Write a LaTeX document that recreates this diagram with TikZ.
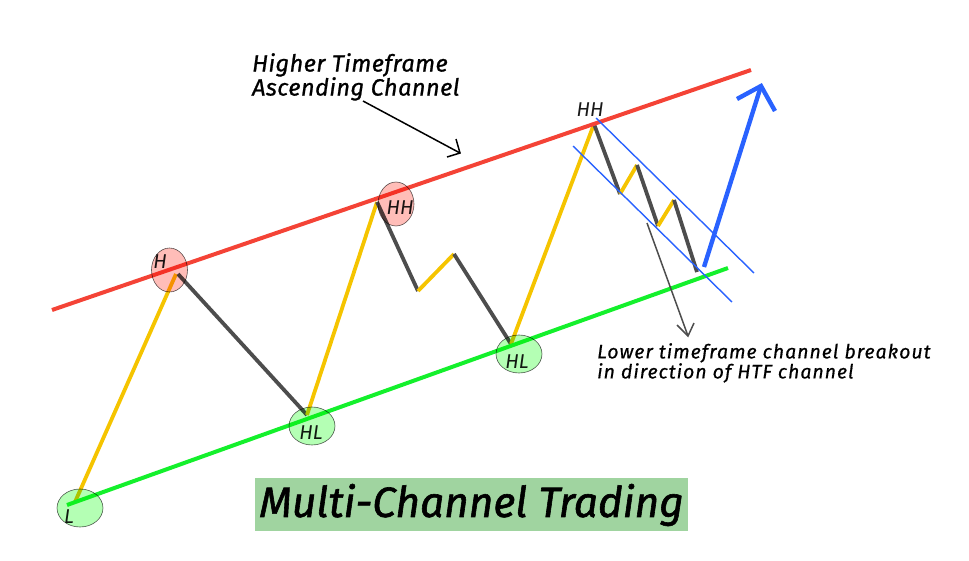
\documentclass[tikz,border=0pt]{standalone}
\usepackage{fontspec}
\setmainfont{Fira Sans}
\newfontfamily\medf[ItalicFeatures={FakeBold=0.9},LetterSpace=2]{Fira Sans}
\newfontfamily\smallf[ItalicFeatures={FakeBold=0.6},LetterSpace=5]{Fira Sans}
\newfontfamily\titlef[ItalicFeatures={FakeBold=1.4}]{Fira Sans}
\usetikzlibrary{shapes.geometric}
\definecolor{upc}{HTML}{F5C400}
\definecolor{downc}{HTML}{4D4D4D}
\definecolor{redc}{HTML}{F44336}
\definecolor{greenc}{HTML}{14F02C}
\definecolor{bluec}{HTML}{2962FF}
\definecolor{bannerc}{HTML}{A0D4A0}
\definecolor{redf}{HTML}{FFBDB8}
\definecolor{greenf}{HTML}{B4FFB4}
\tikzset{
 upleg/.style={draw=upc,line width=3.8pt},
 downleg/.style={draw=downc,line width=3.8pt},
 trend/.style={line width=4pt},
 thinblue/.style={draw=bluec,line width=1.4pt},
 redmark/.style={ellipse,draw=black!65,line width=.6pt,fill=redf,blend mode=multiply,minimum width=36pt,minimum height=44pt,inner sep=0pt},
 greenmark/.style={ellipse,draw=black!65,line width=.6pt,fill=greenf,blend mode=multiply,minimum width=46pt,minimum height=38pt,inner sep=0pt},
 lab/.style={font=\itshape\fontsize{20}{20}\selectfont,inner sep=0pt,text=black!90},
 note/.style={font=\medf\itshape\fontsize{23.5}{24}\selectfont,align=left,inner sep=0pt},
 smallnote/.style={font=\smallf\itshape\fontsize{19.5}{20}\selectfont,align=left,inner sep=0pt},
}
\begin{document}
\begin{tikzpicture}[x=1pt,y=-1pt]
\useasboundingbox (0,0) rectangle (969,560);
% named points
\coordinate (r1) at (52,310); \coordinate (r2) at (751,70);
\coordinate (g1) at (67,505); \coordinate (g2) at (728,268);
\coordinate (p0) at (75,502); \coordinate (p1) at (176,274);
\coordinate (p1b) at (178,274); \coordinate (p2) at (307,415);
\coordinate (p3) at (377,202); \coordinate (p4) at (418,291);
\coordinate (p5) at (454,254); \coordinate (p6) at (511,344);
\coordinate (p7) at (594,124); \coordinate (p8) at (620,194);
\coordinate (p9) at (637,165); \coordinate (p10) at (658,226);
\coordinate (p11) at (674,200); \coordinate (p12) at (697,272);
\coordinate (u1) at (596,118); \coordinate (u2) at (754,273);
\coordinate (l1) at (573,146); \coordinate (l2) at (732,302);
\coordinate (b0) at (704,267); \coordinate (b1) at (761,86);
\coordinate (b2) at (737,99); \coordinate (b3) at (775,111);
\coordinate (k0) at (647,223); \coordinate (k1) at (688,336);
\coordinate (k2) at (677,325); \coordinate (k3) at (694,323);
\coordinate (a0) at (363,101); \coordinate (a1) at (460,153);
\coordinate (a2) at (456,139); \coordinate (a3) at (447,157);
% banner
\node[fill=bannerc,minimum width=433pt,minimum height=53pt,inner sep=0pt] (banner) at (471.5,504.5) {};
\node[inner sep=0pt,font=\titlef\itshape\fontsize{42.4}{42}\selectfont] (title) at (471.5,505) {Multi-Channel Trading};
% legs
\draw[upleg] (p0) -- (p1);
\draw[downleg] (p1b) -- (p2);
\draw[upleg] (p2) -- (p3);
\draw[downleg] (p3) -- (p4);
\draw[upleg] (p4) -- (p5);
\draw[downleg] (p5) -- (p6);
\draw[upleg] (p6) -- (p7);
\draw[downleg] (p7) -- (p8);
\draw[upleg] (p8) -- (p9);
\draw[downleg] (p9) -- (p10);
\draw[upleg] (p10) -- (p11);
\draw[downleg] (p11) -- (p12);
% channel
\draw[trend,draw=redc] (r1) -- (r2);
\draw[trend,draw=greenc] (g1) -- (g2);
\draw[thinblue] (u1) -- (u2);
\draw[thinblue] (l1) -- (l2);
% breakout
\draw[draw=bluec,line width=4.4pt,line join=miter] (b0) -- (b1);
\draw[draw=bluec,line width=4.4pt,line join=miter] (b2) -- (b1) -- (b3);
% pointers
\draw[downc,line width=1.5pt] (k0) -- (k1);
\draw[downc,line width=1.5pt] (k2) -- (k1) -- (k3);
\draw[black,line width=1.5pt] (a0) -- (a1);
\draw[black,line width=1.5pt] (a2) -- (a1) -- (a3);
% labels (under the translucent markers)
\node[lab] (tH) at (160,262) {H};
\node[lab] (tHH) at (400,208) {HH};
\node[lab] (tL) at (69,517) {L};
\node[lab] (tHL1) at (311,433) {HL};
\node[lab] (tHL2) at (517,362) {HL};
\node[lab] (tHHtop) at (590,110) {HH};
% swing markers
\node[redmark] (mH) at (169.5,270) {};
\node[redmark] (mHH) at (396,204) {};
\node[greenmark] (mL) at (80,508) {};
\node[greenmark] (mHL1) at (312,426) {};
\node[greenmark] (mHL2) at (519,354) {};
% notes
\node[note,anchor=north west] (n1) at (252,53) {Higher Timeframe\\Ascending Channel};
\node[smallnote,anchor=north west] (n2) at (597,343) {Lower timeframe channel breakout\\in direction of HTF channel};
\end{tikzpicture}
\end{document}
